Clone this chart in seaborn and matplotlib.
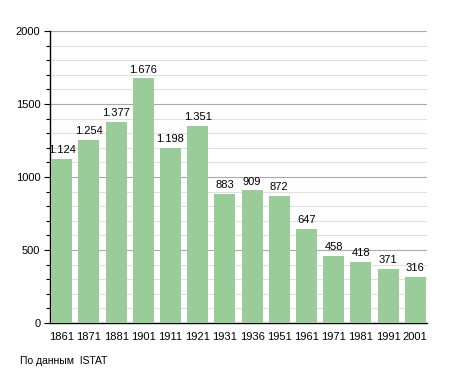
import matplotlib
matplotlib.use("Agg")
import matplotlib.pyplot as plt
import seaborn as sns
import pandas as pd
from matplotlib.ticker import MultipleLocator

years = ["1861", "1871", "1881", "1901", "1911", "1921", "1931", "1936",
         "1951", "1961", "1971", "1981", "1991", "2001"]
population = [1124, 1254, 1377, 1676, 1198, 1351, 883, 909, 872, 647, 458, 418, 371, 316]
y_ticks = [0, 500, 1000, 1500, 2000]
source_text = "По данным  ISTAT"

df = pd.DataFrame({"year": years, "pop": population})

sns.set_style("white")
plt.rcParams['font.family'] = ['Liberation Sans', 'DejaVu Sans']
plt.rcParams['text.color'] = 'black'
plt.rcParams['xtick.color'] = 'black'
plt.rcParams['ytick.color'] = 'black'

fig = plt.figure(figsize=(4.55, 3.73), dpi=100)
ax = fig.add_axes([50/455, 1 - 323/373, 377/455, 292/373])

sns.barplot(data=df, x="year", y="pop", color="#99cc99", saturation=1,
            width=0.77, ax=ax, zorder=3, linewidth=0)

ax.set_ylim(0, 2000)
ax.set_xlim(-0.43, len(years) - 1 + 0.43)
ax.set_yticks(y_ticks)
ax.set_yticklabels([str(v) for v in y_ticks])
ax.yaxis.set_minor_locator(MultipleLocator(100))
ax.grid(axis="y", which="major", color="#aaaaaa", linewidth=0.8, zorder=0)
ax.grid(axis="y", which="minor", color="#e0e0e0", linewidth=0.8, zorder=0)
ax.set_axisbelow(True)

for s in ["top", "right"]:
    ax.spines[s].set_visible(False)
for s in ["left", "bottom"]:
    ax.spines[s].set_color("black")
    ax.spines[s].set_linewidth(1.0)

ax.tick_params(axis="y", which="major", left=True, length=4, width=0.8,
               labelsize=8, pad=3, color="black", labelcolor="black")
ax.tick_params(axis="y", which="minor", left=True, length=3, width=0.8, color="black")
ax.tick_params(axis="x", bottom=False, labelsize=8, pad=3, labelcolor="black")
ax.set_xlabel("")
ax.set_ylabel("")

for i, v in enumerate(population):
    lbl = f"{v:,}".replace(",", ".")
    ax.text(i, v + 25, lbl, ha="center", va="bottom", fontsize=8, zorder=5, color="black")

fig.text(20/455, 1 - 361/373, source_text, fontsize=7.5, ha="left", va="center", color="black")

fig.savefig("out.png", dpi=100)
